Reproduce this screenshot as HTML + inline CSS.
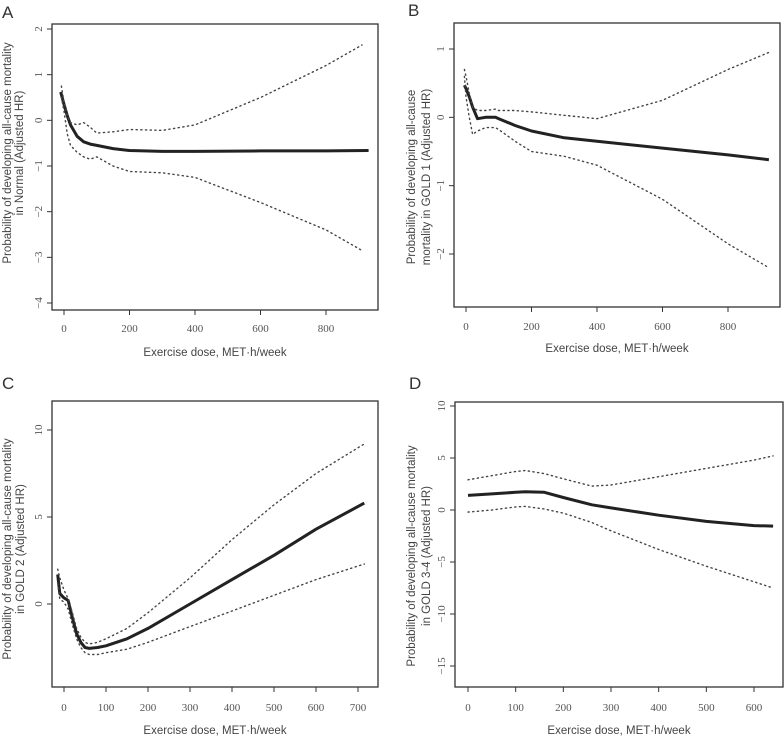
<!DOCTYPE html>
<html><head><meta charset="utf-8"><style>
body{margin:0;background:#fff;}
svg{display:block;font-family:"Liberation Sans",sans-serif;}
.tick{font-family:"Liberation Serif",serif;font-size:11px;fill:#555;}
.ttl{font-size:11.5px;fill:#444;}
.lbl{font-size:17px;fill:#333;}
</style></head><body>
<svg id="chart" width="784" height="738" viewBox="0 0 784 738"></svg>
<script>
const xA=[-10,0,10,20,40,60,80,100,150,200,300,400,600,800,930];
const meanA=[0.62,0.35,0.1,-0.1,-0.35,-0.47,-0.52,-0.55,-0.62,-0.66,-0.68,-0.68,-0.67,-0.67,-0.66];
const xAb=[-8,0,10,20,40,60,80,100,150,200,300,400,600,800,910];
const upA=[0.75,0.4,0.1,-0.05,-0.1,-0.05,-0.15,-0.28,-0.25,-0.2,-0.22,-0.1,0.5,1.2,1.65];
const loA=[0.5,0.2,-0.3,-0.55,-0.7,-0.8,-0.85,-0.8,-1.0,-1.12,-1.15,-1.25,-1.8,-2.4,-2.85];
const xB=[-5,0,10,20,35,60,90,100,150,200,300,400,600,800,925];
const meanB=[0.47,0.42,0.3,0.15,-0.02,0.0,0.0,-0.02,-0.12,-0.2,-0.3,-0.35,-0.45,-0.55,-0.62];
const upB=[0.7,0.6,0.35,0.15,0.1,0.1,0.12,0.1,0.1,0.08,0.03,-0.02,0.25,0.7,0.95];
const loB=[0.6,0.3,0.0,-0.25,-0.2,-0.15,-0.15,-0.18,-0.35,-0.5,-0.57,-0.7,-1.2,-1.85,-2.2];
const xC=[-15,-10,0,10,20,30,40,50,60,80,100,150,200,300,400,500,600,715];
const meanC=[1.7,0.6,0.35,0.2,-0.8,-1.7,-2.2,-2.5,-2.55,-2.5,-2.4,-2.0,-1.4,0.0,1.4,2.8,4.3,5.8];
const upC=[2.0,1.5,0.8,0.3,-0.5,-1.4,-1.9,-2.2,-2.3,-2.2,-2.0,-1.4,-0.5,1.5,3.7,5.7,7.5,9.2];
const loC=[1.2,0.3,0.1,-0.3,-1.2,-2.0,-2.5,-2.8,-2.9,-2.9,-2.8,-2.6,-2.2,-1.3,-0.4,0.5,1.4,2.3];
const xD=[0,50,100,120,160,200,260,300,400,500,600,640];
const meanD=[1.4,1.55,1.7,1.75,1.7,1.2,0.5,0.2,-0.5,-1.1,-1.5,-1.55];
const upD=[2.9,3.3,3.7,3.8,3.5,3.0,2.3,2.4,3.2,4.0,4.8,5.2];
const loD=[-0.2,0.0,0.3,0.35,0.1,-0.3,-1.2,-2.0,-3.8,-5.4,-6.9,-7.5];
const xticksA=[0,200,400,600,800], yticksA=[2,1,0,-1,-2,-3,-4];
const xticksB=[0,200,400,600,800], yticksB=[1,0,-1,-2];
const xticksC=[0,100,200,300,400,500,600,700], yticksC=[10,5,0];
const xticksD=[0,100,200,300,400,500,600], yticksD=[10,5,0,-5,-10,-15];

const svg=document.getElementById('chart');
const NS='http://www.w3.org/2000/svg';
function mk(tag,attrs,parent){const e=document.createElementNS(NS,tag);for(const k in attrs)e.setAttribute(k,attrs[k]);parent.appendChild(e);return e;}

const panels=[
 {id:'a',letter:'A',lx:2,ly:18,box:[52,24,378,310],x0:64,xv0:0,x1:326,xv1:800,y0:29,yv0:2,y1:303,yv1:-4,
  xt:xticksA,yt:yticksA,xtY:332,xtitY:356,tx:[7,19],tcy:153,
  t1:'Probability of developing all-cause mortality',t2:'in Normal (Adjusted HR)',
  series:[[xA,meanA],[xAb,upA],[xAb,loA]]},
 {id:'b',letter:'B',lx:408,ly:16,box:[454,23,780,307],x0:466,xv0:0,x1:728,xv1:800,y0:49,yv0:1,y1:254,yv1:-2,
  xt:xticksB,yt:yticksB,xtY:330,xtitY:352,tx:[411,426],tcy:177,
  t1:'Probability of developing all-cause',t2:'mortality in GOLD 1 (Adjusted HR)',
  series:[[xB,meanB],[xB,upB],[xB,loB]]},
 {id:'c',letter:'C',lx:2,ly:389,box:[52,401,378,687],x0:64,xv0:0,x1:358,xv1:700,y0:430,yv0:10,y1:604,yv1:0,
  xt:xticksC,yt:yticksC,xtY:711,xtitY:734,tx:[7,20],tcy:549,
  t1:'Probability of developing all-cause mortality',t2:'in GOLD 2 (Adjusted HR)',
  series:[[xC,meanC],[xC,upC],[xC,loC]]},
 {id:'d',letter:'D',lx:409,ly:389,box:[455,402,783,687],x0:468,xv0:0,x1:754,xv1:600,y0:406,yv0:10,y1:666,yv1:-15,
  xt:xticksD,yt:yticksD,xtY:711,xtitY:734,tx:[411,426],tcy:556,
  t1:'Probability of developing all-cause mortality',t2:'in GOLD 3-4 (Adjusted HR)',
  series:[[xD,meanD],[xD,upD],[xD,loD]]}
];

panels.forEach(p=>{
 const g=mk('g',{},svg);
 
 
 const sx=v=>p.x0+(v-p.xv0)*(p.x1-p.x0)/(p.xv1-p.xv0);
 const sy=v=>p.y0+(v-p.yv0)*(p.y1-p.y0)/(p.yv1-p.yv0);
 const [L,T,R,B]=p.box;
 const lt=mk('text',{x:p.lx,y:p.ly,class:'lbl'},g);lt.textContent=p.letter;
 
 
 const box=mk('rect',{x:L,y:T,width:R-L,height:B-T,fill:'none',stroke:'#333','stroke-width':1.3},g);
 
 
 // x axis
 const xa=mk('g',{},g);
 
 
 mk('line',{x1:sx(p.xt[0]),x2:sx(p.xt[p.xt.length-1]),y1:B,y2:B,stroke:'#333'},xa);
 p.xt.forEach(v=>{
  mk('line',{x1:sx(v),x2:sx(v),y1:B,y2:B+5,stroke:'#333'},xa);
  const t=mk('text',{x:sx(v),y:p.xtY,class:'tick','text-anchor':'middle'},xa);t.textContent=v;
  
  
 });
 // y axis
 const ya=mk('g',{},g);
 
 
 mk('line',{x1:L,x2:L,y1:sy(p.yt[0]),y2:sy(p.yt[p.yt.length-1]),stroke:'#333'},ya);
 p.yt.forEach(v=>{
  mk('line',{x1:L-5,x2:L,y1:sy(v),y2:sy(v),stroke:'#333'},ya);
  const tx=L-10,ty=sy(v);
  const t=mk('text',{x:tx,y:ty,class:'tick','text-anchor':'middle',transform:`rotate(-90 ${tx} ${ty})`},ya);
  t.textContent=v<0?'\u2212'+Math.abs(v):v;
  
  
 });
 const xt=mk('text',{x:(L+R)/2,y:p.xtitY,class:'ttl','text-anchor':'middle'},g);
 xt.textContent='Exercise dose, MET\u00b7h/week';
 
 
 [p.t1,p.t2].forEach((s,i)=>{
  const x=p.tx[i]+4,y=p.tcy;
  const t=mk('text',{x:x,y:y,class:'ttl','text-anchor':'middle',transform:`rotate(-90 ${x} ${y})`},g);
  t.textContent=s;
  
  
 });
 p.series.forEach((s,i)=>{
  const pts=s[0].map((x,j)=>sx(x).toFixed(1)+','+sy(s[1][j]).toFixed(1)).join(' ');
  const attrs=i===0?{points:pts,fill:'none',stroke:'#222','stroke-width':3,'stroke-linejoin':'round'}
   :{points:pts,fill:'none',stroke:'#444','stroke-width':1.4,'stroke-dasharray':'1.2 3.5','stroke-linecap':'round'};
  const pl=mk('polyline',attrs,g);
  
  
 });
});
</script>
</body></html>
